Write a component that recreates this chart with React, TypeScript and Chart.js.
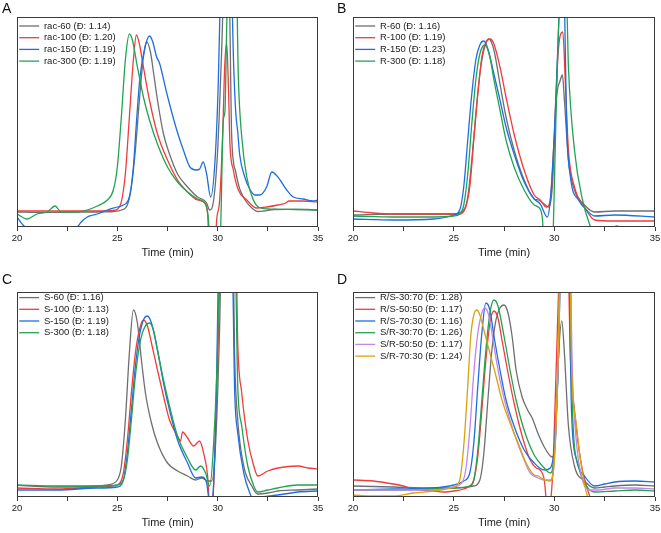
import React, { useEffect, useRef } from 'react';
import { Chart, registerables } from 'chart.js';

Chart.register(...registerables);

type Pt = [number, number];

// ---------- Tick / axis data ----------
const xMin = 20;
const xMax = 35;
const xStep = 2.5;
const xTitle = 'Time (min)';

// ---------- Panel A (rac) ----------
const labelsA = ['rac-60 (Đ: 1.14)', 'rac-100 (Đ: 1.20)', 'rac-150 (Đ: 1.19)', 'rac-300 (Đ: 1.19)'];
const rac60: Pt[] = [[20,15],[21,14.7],[22,14.7],[23,14.8],[24,15],[24.8,15.5],[25.2,17],[25.5,22],[25.7,40],[25.9,77],[26.1,127],[26.3,170],[26.47,185],[26.65,175],[26.8,155],[27.0,127],[27.3,93],[27.6,73],[28.0,53],[28.5,40],[29.0,30],[29.3,27],[29.45,24],[29.6,17],[29.8,27],[30.0,77],[30.2,177],[30.35,260],[30.55,260],[30.7,90],[30.9,55],[31.1,38],[31.4,26],[31.7,19],[32.0,15.5],[32.3,16],[32.8,17.5],[33.5,17.7],[34.5,17.5],[35,16.7]];
const rac100: Pt[] = [[20,16],[21,16],[22,16],[23,16],[24,16],[24.8,16.5],[25.1,20],[25.25,30],[25.4,53],[25.6,110],[25.8,167],[25.95,192],[26.1,183],[26.3,160],[26.6,127],[27.0,93],[27.5,67],[28.0,47],[28.5,35],[29.0,27],[29.3,25],[29.5,13],[29.6,-30],[29.85,-30],[29.95,7],[30.1,27],[30.25,93],[30.35,160],[30.45,184],[30.55,130],[30.61,84],[30.78,57],[31.03,37],[31.45,27],[31.94,19],[32.44,20],[33.0,22],[33.4,24],[33.55,26],[34.2,26],[35,25]];
const rac150: Pt[] = [[20,10],[20.3,2],[20.6,-3],[21,-5],[22,-5],[22.8,-2],[23.0,0],[23.2,5],[23.5,10],[23.8,12],[24,13],[24.5,17],[25,20],[25.3,22],[25.6,30],[25.8,60],[25.96,107],[26.13,150],[26.38,180],[26.6,191],[26.75,186],[26.96,170],[27.1,164],[27.46,134],[27.96,97],[28.29,77],[28.62,60],[28.95,57],[29.1,58],[29.28,65],[29.45,53],[29.65,30],[29.87,67],[30.03,144],[30.12,220],[30.2,260],[30.65,260],[30.8,160],[30.9,115],[31.0,95],[31.1,72],[31.35,50],[31.6,38],[31.85,32],[32.1,32],[32.44,40],[32.7,55],[33.0,50],[33.44,37],[33.77,30],[34.26,28],[34.76,26],[35,27]];
const rac300: Pt[] = [[20,13],[20.5,8],[21,13],[21.5,15],[21.9,21],[22.2,15],[23,15],[23.5,17],[24,21],[24.5,27],[24.8,37],[25.0,60],[25.2,110],[25.4,167],[25.6,193],[25.75,187],[26.0,160],[26.3,130],[26.6,107],[27.0,83],[27.5,60],[28.0,45],[28.5,35],[29.0,28],[29.3,25],[29.5,15],[29.65,-20],[30.0,-40],[30.15,0],[30.28,107],[30.36,115],[30.45,200],[30.55,280],[30.9,280],[31.03,150],[31.2,90],[31.45,50],[31.78,27],[32.03,20],[32.5,18],[33,17.7],[34,17.5],[35,17]];

// ---------- Panel B (R) ----------
const labelsB = ['R-60 (Đ: 1.16)', 'R-100 (Đ: 1.19)', 'R-150 (Đ: 1.23)', 'R-300 (Đ: 1.18)'];
const r60: Pt[] = [[20,12],[22,13],[24,13],[25,13],[25.5,17],[25.7,30],[25.9,67],[26.1,113],[26.3,153],[26.5,177],[26.75,188],[27.0,177],[27.3,143],[27.6,110],[28.0,77],[28.5,47],[29.0,28],[29.2,27],[29.5,23],[29.7,20],[29.9,40],[30.1,127],[30.3,147],[30.4,152],[30.5,127],[30.7,67],[31.0,37],[31.5,22],[32,15],[33,16],[35,16]];
const r100: Pt[] = [[20,16],[21,14],[22,13],[24,13],[25,13],[25.3,13],[25.6,20],[25.8,40],[26.0,87],[26.2,133],[26.4,170],[26.6,185],[26.8,188],[27.0,183],[27.3,160],[27.6,130],[28.0,93],[28.5,57],[29.0,32],[29.3,27],[29.6,20],[29.8,27],[30.0,93],[30.2,177],[30.42,195],[30.55,143],[30.7,77],[31.0,40],[31.5,20],[32,7],[33,6],[35,6]];
const r150: Pt[] = [[20,8],[22,7],[24,8],[25,12],[25.3,17],[25.5,40],[25.7,87],[25.9,133],[26.1,167],[26.3,182],[26.5,186],[26.7,178],[27.0,153],[27.3,127],[27.6,100],[28.0,73],[28.5,45],[29.0,28],[29.3,23],[29.65,10],[29.8,27],[30.0,93],[30.2,193],[30.35,260],[30.5,230],[30.6,110],[30.8,50],[31.2,27],[31.6,17],[32,11],[33,12],[35,10]];
const r300: Pt[] = [[20,11],[22,10],[24,10],[25,11],[25.3,13],[25.5,22],[25.7,53],[25.9,103],[26.1,147],[26.3,173],[26.55,182],[26.8,170],[27.0,147],[27.3,117],[27.6,87],[28.0,60],[28.5,37],[29.0,22],[29.2,20],[29.4,10],[29.5,-20],[29.8,-30],[29.95,0],[30.1,127],[30.3,230],[30.6,230],[30.7,160],[31.0,77],[31.4,27],[31.8,0],[32,-10],[32.5,-8],[33.1,1],[33.5,-3],[35,-5]];

// ---------- Panel C (S) ----------
const labelsC = ['S-60 (Đ: 1.16)', 'S-100 (Đ: 1.13)', 'S-150 (Đ: 1.19)', 'S-300 (Đ: 1.18)'];
const s60: Pt[] = [[20,11.7],[22,10],[24,11],[24.5,12],[25,17],[25.2,31],[25.4,77],[25.6,144],[25.8,187],[26.0,174],[26.2,137],[26.4,104],[26.7,74],[27.0,54],[27.5,34],[28.0,26],[28.5,21],[28.9,17],[29.2,19],[29.5,16],[29.7,16],[29.9,54],[30.1,171],[30.2,260],[30.75,260],[30.85,137],[31.0,77],[31.3,31],[31.7,11],[32.0,3],[32.5,4],[33,6],[34,7],[35,8]];
const s100: Pt[] = [[20,9],[22,8],[24,10],[25,12],[25.3,24],[25.5,57],[25.7,104],[25.9,144],[26.1,167],[26.3,177],[26.5,171],[26.7,154],[27.0,127],[27.3,101],[27.6,77],[28.0,61],[28.15,56],[28.25,65],[28.5,59],[28.8,51],[29.1,56],[29.3,44],[29.5,21],[29.6,-10],[29.75,-5],[29.9,71],[30.05,171],[30.15,260],[30.9,260],[31.0,154],[31.2,104],[31.5,57],[31.8,31],[32.0,21],[32.5,26],[33,29],[34,31],[34.5,29],[35,28]];
const s150: Pt[] = [[20,7],[22,7],[24,9],[25,10],[25.3,17],[25.5,44],[25.7,87],[25.9,131],[26.1,161],[26.3,177],[26.5,181],[26.7,174],[27.0,147],[27.3,114],[27.6,87],[28.0,57],[28.5,34],[28.9,19],[29.2,20],[29.45,14],[29.6,-5],[29.75,0],[29.9,71],[30.1,260],[30.7,260],[30.85,104],[31.0,64],[31.3,24],[31.6,4],[31.8,-3],[32.2,0],[33,2],[34,5],[35,6]];
const s300: Pt[] = [[20,12],[22,11],[24,11],[25,12],[25.3,17],[25.5,37],[25.7,77],[25.9,121],[26.1,151],[26.3,167],[26.6,174],[26.8,167],[27.0,147],[27.3,117],[27.6,91],[28.0,61],[28.5,39],[28.9,27],[29.15,31],[29.4,24],[29.6,11],[29.8,54],[30.0,154],[30.1,260],[30.85,260],[31.0,111],[31.2,71],[31.5,31],[31.8,11],[32.0,5],[32.5,7],[33,9],[34,12],[35,12]];

// ---------- Panel D (blends) ----------
const labelsD = ['R/S-30:70 (Đ: 1.28)', 'R/S-50:50 (Đ: 1.17)', 'R/S-70:30 (Đ: 1.16)', 'S/R-30:70 (Đ: 1.26)', 'S/R-50:50 (Đ: 1.17)', 'S/R-70:30 (Đ: 1.24)'];
const rs3070: Pt[] = [[20,11],[22,10],[24,9],[25,9],[26,11],[26.3,17],[26.5,44],[26.7,97],[26.9,147],[27.1,177],[27.3,189],[27.5,192],[27.7,184],[27.9,161],[28.1,127],[28.4,100],[28.7,86],[28.9,79],[29.2,63],[29.5,50],[29.8,41],[29.95,40],[30.05,55],[30.2,137],[30.37,176],[30.5,144],[30.7,71],[31.0,31],[31.5,16],[32,9],[32.5,10],[33,11],[34,12],[35,11]];
const rs5050: Pt[] = [[20,17],[21,16],[22,13],[22.5,11],[23,8],[24,6],[24.5,5],[25,6],[25.5,8],[25.8,11],[26.0,17],[26.2,41],[26.4,87],[26.6,137],[26.8,174],[27.0,186],[27.2,179],[27.4,157],[27.7,124],[28.0,94],[28.4,61],[28.8,37],[29.1,29],[29.3,27],[29.5,17],[29.65,-10],[29.8,-5],[29.95,37],[30.2,200],[30.35,260],[30.65,260],[30.8,137],[31.0,87],[31.3,37],[31.6,11],[31.9,-5],[32.5,-8],[33.3,0.5],[33.6,-2],[35,-5]];
const rs7030: Pt[] = [[20,7],[22,8],[24,9],[25,12],[25.5,16],[25.8,24],[26.0,54],[26.2,111],[26.4,164],[26.6,194],[26.8,187],[27.0,161],[27.3,127],[27.6,97],[28.0,71],[28.5,47],[29.0,34],[29.5,27],[29.8,29],[30.0,51],[30.2,137],[30.35,260],[30.7,260],[30.85,87],[31.1,37],[31.5,21],[32,11],[32.5,13],[33,15],[34,16],[35,15]];
const sr3070: Pt[] = [[20,7],[22,7],[24,8],[25,9],[25.8,11],[26.0,17],[26.2,47],[26.4,97],[26.6,147],[26.8,184],[27.0,197],[27.2,191],[27.5,161],[27.8,127],[28.1,97],[28.5,67],[29.0,42],[29.5,29],[29.8,24],[30.0,44],[30.2,137],[30.35,260],[30.75,260],[30.9,87],[31.2,31],[31.6,11],[32,5],[33,6],[34,7],[35,6]];
const sr5050: Pt[] = [[20,7],[22,7],[24,7],[25,10],[25.4,14],[25.6,27],[25.8,67],[26.0,124],[26.2,164],[26.4,184],[26.55,189],[26.75,181],[27.0,151],[27.3,117],[27.6,91],[28.0,64],[28.5,37],[28.8,24],[29.2,19],[29.5,17],[29.8,17],[30.0,37],[30.2,137],[30.35,260],[30.75,260],[30.9,121],[31.1,54],[31.4,17],[31.8,7],[32.2,7],[33,9],[34,9],[35,8]];
const sr7030: Pt[] = [[20,2],[21,1],[22,1],[23,4],[24,6],[25,10],[25.3,17],[25.5,51],[25.7,111],[25.85,161],[26.0,182],[26.15,187],[26.3,182],[26.5,167],[26.8,144],[27.1,121],[27.4,97],[27.8,74],[28.2,54],[28.6,34],[29.0,22],[29.2,21],[29.5,17],[29.8,16],[30.0,37],[30.2,154],[30.3,260],[30.75,260],[30.85,137],[31.1,71],[31.4,24],[31.7,-3],[32,-10],[35,-10]];

// ---------- Colours ----------
const GRAY = '#6f6f6f';
const RED = '#f03c3c';
const BLUE = '#1c6fe0';
const GREEN = '#21a352';
const PURPLE = '#c286e8';
const ORANGE = '#dba20c';

const FONT = 'Arial, "Liberation Sans", Helvetica, sans-serif';

interface Panel {
  letter: string;
  left: number; top: number; w: number; h: number;
  legendOffset: number;
  labels: string[];
  series: Pt[][];
  colors: string[];
}

const panels: Panel[] = [
  { letter: 'A', left: 17, top: 17, w: 301, h: 210, legendOffset: 9, labels: labelsA, series: [rac60, rac100, rac150, rac300], colors: [GRAY, RED, BLUE, GREEN] },
  { letter: 'B', left: 353, top: 17, w: 302, h: 210, legendOffset: 9, labels: labelsB, series: [r60, r100, r150, r300], colors: [GRAY, RED, BLUE, GREEN] },
  { letter: 'C', left: 17, top: 292, w: 301, h: 205, legendOffset: 5.6, labels: labelsC, series: [s60, s100, s150, s300], colors: [GRAY, RED, BLUE, GREEN] },
  { letter: 'D', left: 353, top: 292, w: 302, h: 205, legendOffset: 5.6, labels: labelsD, series: [rs3070, rs5050, rs7030, sr3070, sr5050, sr7030], colors: [GRAY, RED, BLUE, GREEN, PURPLE, ORANGE] },
];

const PADX = 30;
const PADTOP = 17;
const AXIS_H = 33;
const LEG_FONT = 9.5;
const LEG_PAD = 2.2;

const framePlugin = {
  id: 'frame',
  afterDraw(chart: any) {
    const { ctx, chartArea } = chart;
    const { left, top, right, bottom } = chartArea;
    ctx.save();
    ctx.strokeStyle = '#3a3a3a';
    ctx.lineWidth = 1;
    ctx.strokeRect(Math.round(left) + 0.5, Math.round(top) + 0.5, Math.round(right - left) - 1, Math.round(bottom - top) - 1);
    ctx.restore();
  },
};

function PanelChart({ p }: { p: Panel }) {
  const ref = useRef<HTMLCanvasElement | null>(null);
  useEffect(() => {
    if (!ref.current) return;
    const n = p.series.length;
    // the chartArea legend is laid out from the canvas top, so an empty title pushes it into the plot
    const titleH = PADTOP + p.legendOffset - LEG_PAD - LEG_FONT / 2;
    const chart = new Chart(ref.current, {
      type: 'line',
      data: {
        datasets: p.series.map((s, i) => ({
          label: p.labels[i],
          data: s.map(([x, y]) => ({ x, y })),
          borderColor: p.colors[i],
          backgroundColor: p.colors[i],
          borderWidth: 1.3,
          pointRadius: 0,
          fill: false,
          cubicInterpolationMode: 'monotone' as const,
          order: n - i,
        })),
      },
      options: {
        animation: false,
        responsive: false,
        maintainAspectRatio: false,
        events: [],
        layout: { padding: { left: PADX, right: PADX, top: PADTOP, bottom: 0 } },
        scales: {
          x: {
            type: 'linear',
            min: xMin,
            max: xMax,
            afterFit: (s: any) => { s.height = AXIS_H; },
            ticks: {
              stepSize: xStep,
              autoSkip: false,
              maxRotation: 0,
              padding: 1.5,
              color: '#222',
              font: { size: 9.5, family: FONT },
              callback: (v: any) => (Number(v) % 5 === 0 ? String(v) : ''),
            },
            grid: { drawOnChartArea: false, drawTicks: true, tickLength: 4, color: '#3a3a3a' },
            border: { display: false },
            title: { display: true, text: xTitle, color: '#222', font: { size: 11, family: FONT }, padding: 0 },
          },
          y: { display: false, min: 0, max: p.h },
        },
        plugins: {
          legend: {
            position: 'chartArea' as any,
            align: 'start',
            title: { display: true, text: '', font: { size: 10, lineHeight: 1 }, padding: { top: titleH - 10, bottom: 0 } },
            labels: {
              usePointStyle: true,
              pointStyle: 'line',
              pointStyleWidth: 20,
              color: '#222',
              padding: LEG_PAD,
              font: { size: LEG_FONT, family: FONT },
              sort: (a: any, b: any) => a.datasetIndex - b.datasetIndex,
            },
          },
          tooltip: { enabled: false },
        },
      } as any,
      plugins: [framePlugin],
    });
    return () => chart.destroy();
  }, [p]);
  const cw = p.w + 2 * PADX;
  const ch = PADTOP + p.h + AXIS_H;
  return (
    <canvas
      ref={ref}
      width={cw}
      height={ch}
      style={{ position: 'fixed', left: p.left - PADX, top: p.top - PADTOP, width: cw, height: ch }}
    />
  );
}

export default function App() {
  const letterPos: Record<string, [number, number]> = { A: [2, 0], B: [337, 0], C: [2, 271], D: [337, 271] };
  return (
    <div style={{ position: 'fixed', left: 0, top: 0, width: 661, height: 533, background: '#fff' }}>
      {panels.map((p) => (
        <PanelChart key={p.letter} p={p} />
      ))}
      {panels.map((p) => (
        <div
          key={'l' + p.letter}
          style={{ position: 'fixed', left: letterPos[p.letter][0], top: letterPos[p.letter][1], fontFamily: FONT, fontSize: 14, color: '#111', lineHeight: '16px' }}
        >
          {p.letter}
        </div>
      ))}
    </div>
  );
}
